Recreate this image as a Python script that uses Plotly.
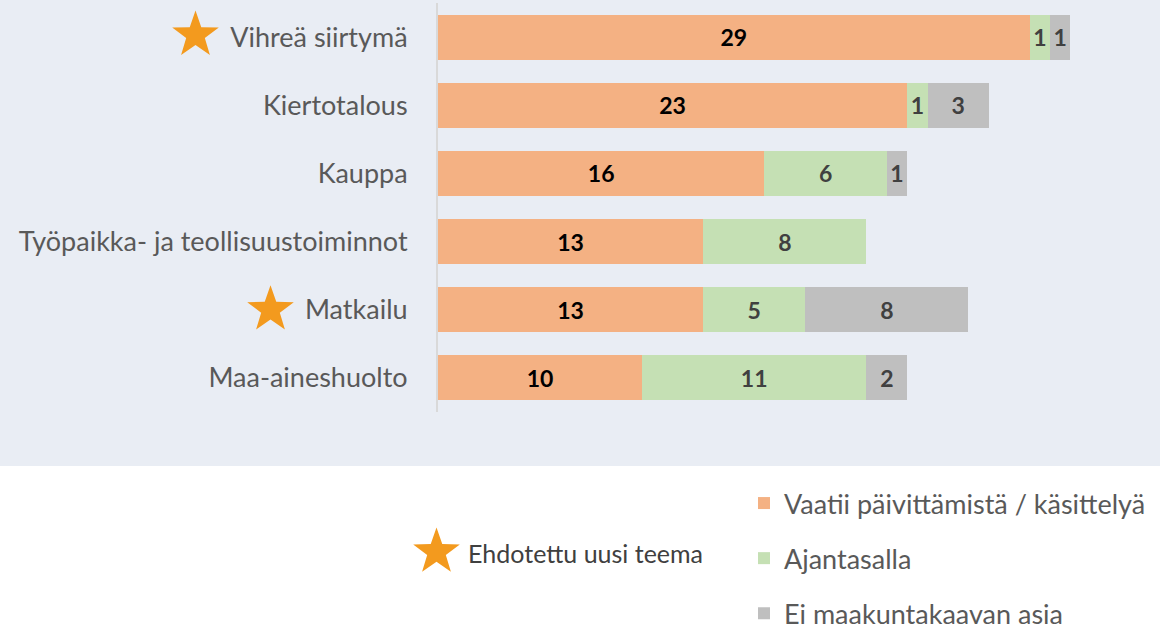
import math
import plotly.graph_objects as go

categories = ["Vihreä siirtymä", "Kiertotalous", "Kauppa",
              "Työpaikka- ja teollisuustoiminnot", "Matkailu", "Maa-aineshuolto"]
vaatii = [29, 23, 16, 13, 13, 10]
ajantasalla = [1, 1, 6, 8, 5, 11]
ei_asia = [1, 3, 1, None, 8, 2]
starred = ["Vihreä siirtymä", "Matkailu"]
series_names = ["Vaatii päivittämistä / käsittelyä", "Ajantasalla", "Ei maakuntakaavan asia"]
colors = ["#F4B183", "#C5E0B4", "#BFBFBF"]
text_colors = ["#000000", "#404040", "#404040"]

W, H = 1160, 630
ML, MR, MT, MB = 438, 10, 3, 218
PW, PH = W - ML - MR, H - MT - MB
BG = "#E9EDF4"
STAR = "#F39A1E"

fig = go.Figure()
for i, (name, vals) in enumerate(zip(series_names, [vaatii, ajantasalla, ei_asia])):
    fig.add_trace(go.Bar(
        y=categories, x=vals, orientation="h", name=name,
        marker=dict(color=colors[i], line=dict(width=0)),
        texttemplate="<b>%{x}</b>", textposition="inside", insidetextanchor="middle",
        textfont=dict(color=text_colors[i], size=23, family="Lato, Liberation Sans"),
        legendgroup=f"g{i}", width=0.66,
    ))

def px_x(p):
    return (p - ML) / PW

def px_y(p):
    return (H - MB - p) / PH

def star_path(R=24.5, r=9.8, dy=0.0):
    pts = []
    for k in range(10):
        ang = math.pi / 2 + k * math.pi / 5
        rad = R if k % 2 == 0 else r
        pts.append((rad * math.cos(ang), rad * math.sin(ang) + dy))
    return "M " + " L ".join(f"{x:.2f},{y:.2f}" for x, y in pts) + " Z"

fig.add_shape(type="rect", xref="paper", yref="paper",
              x0=px_x(0), x1=px_x(W), y0=px_y(466), y1=px_y(0),
              fillcolor=BG, line=dict(width=0), layer="below")

star_pos = {"Vihreä siirtymä": (195.5, 2.0), "Matkailu": (270.5, 0.0)}
for c in starred:
    sx, sdy = star_pos[c]
    fig.add_shape(type="path", xref="paper", yref="y",
                  xsizemode="pixel", ysizemode="pixel",
                  xanchor=px_x(sx), yanchor=c,
                  path=star_path(dy=sdy),
                  fillcolor=STAR, line=dict(width=0), layer="above")

fig.add_shape(type="path", xref="paper", yref="paper",
              xsizemode="pixel", ysizemode="pixel",
              xanchor=px_x(436.5), yanchor=px_y(552),
              path=star_path(), fillcolor=STAR, line=dict(width=0), layer="above")
fig.add_annotation(xref="paper", yref="paper", x=px_x(466), y=px_y(553),
                   text="Ehdotettu uusi teema", showarrow=False,
                   font=dict(size=25, color="#404040", family="Lato"),
                   xanchor="left", yanchor="middle")

fig.update_layout(
    width=W, height=H, barmode="stack", bargap=0.34,
    margin=dict(l=ML, r=MR, t=MT, b=MB, autoexpand=False),
    paper_bgcolor="white", plot_bgcolor=BG,
    uniformtext=dict(minsize=23, mode="show"),
    font=dict(family="Lato, Liberation Sans", color="#595959"),
    xaxis=dict(range=[0, PW / 20.4], visible=False, showgrid=False, zeroline=False),
    yaxis=dict(range=[5.5, -0.5], showgrid=False, zeroline=False,
               showline=True, linecolor="#D9D9D9", linewidth=2,
               ticks="", ticklabelstandoff=23,
               tickfont=dict(size=27, color="#595959", family="Lato, Liberation Sans")),
    legend=dict(x=px_x(744), y=px_y(479), xanchor="left", yanchor="top",
                bgcolor="rgba(0,0,0,0)", tracegroupgap=17, traceorder="grouped",
                font=dict(size=27, color="#595959", family="Lato")),
    showlegend=True,
)

fig.write_html("out.html")
